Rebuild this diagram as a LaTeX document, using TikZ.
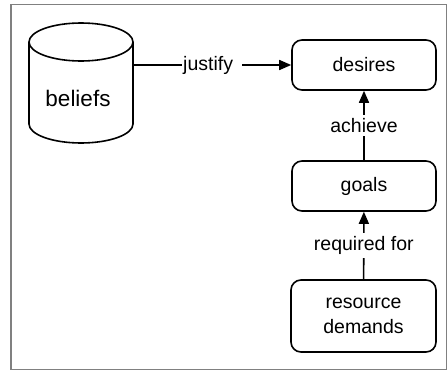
\documentclass[tikz,border=0pt]{standalone}
\usepackage{fontspec}
\setmainfont{Liberation Sans}
\usetikzlibrary{arrows.meta,positioning}

\begin{document}
\begin{tikzpicture}[x=1pt,y=-1pt]
   \tikzstyle{every node}=[font=\fontsize{19.5}{23}\selectfont]
   \tikzstyle{state}=[draw, line width=1.6pt, rounded corners=10pt, minimum width=144pt, minimum height=50pt, align=center]
   \tikzstyle{link}=[line width=1.6pt, -{Triangle[length=12pt,width=10pt]}]
   \tikzstyle{tag}=[fill=white, inner sep=3pt]

\useasboundingbox (0,0) rectangle (447,372);
\draw[gray, line width=1.2pt] (11,4.5) rectangle (446.5,369.5);

% belief store
\draw[line width=1.6pt] (81,42) ellipse [x radius=52, y radius=19];
\draw[line width=1.6pt] (29,42) -- (29,124) arc[start angle=180, end angle=0, x radius=52, y radius=19] -- (133,42);
\coordinate (store) at (133,83);
\node[font=\fontsize{22.5}{26}\selectfont] (beliefs) at (78,98) {beliefs};

\node[state] (desires) at (364,65) {desires};
\node[state] (goals) at (364,186) {goals};
\node[state, minimum height=72pt, minimum width=145pt] (demands) at (363.5,316) {resource\\[2pt]demands};

\draw[link] (store |- desires) -- node[tag, inner xsep=1pt] {justify\kern8pt} (desires);
\draw[link] (goals) -- node[tag] {achieve} (desires);
\draw[link] (demands) -- node[tag] {required for} (goals);

\end{tikzpicture}
\end{document}
